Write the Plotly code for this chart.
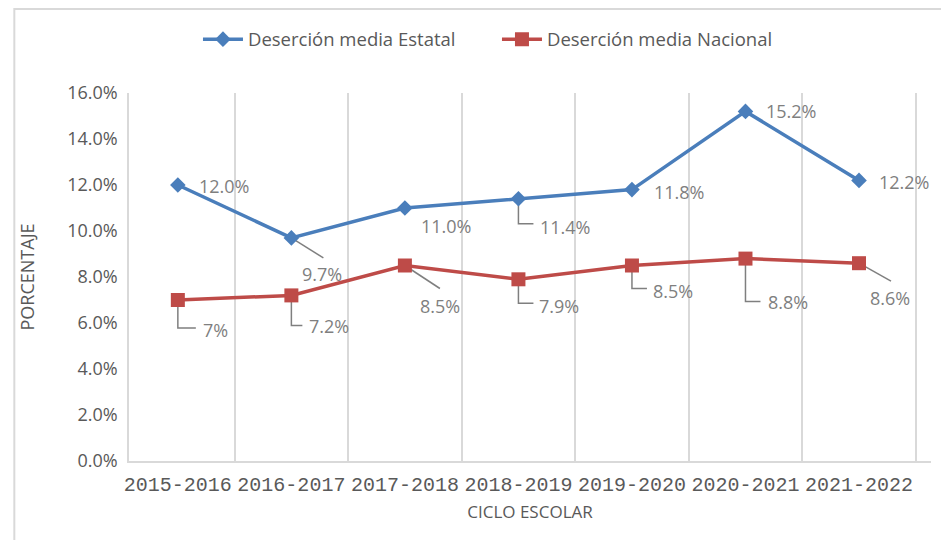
import plotly.graph_objects as go

ciclos = ["2015-2016", "2016-2017", "2017-2018", "2018-2019", "2019-2020", "2020-2021", "2021-2022"]
estatal = [12.0, 9.7, 11.0, 11.4, 11.8, 15.2, 12.2]
nacional = [7.0, 7.2, 8.5, 7.9, 8.5, 8.8, 8.6]
etiquetas_estatal = ["12.0%", "9.7%", "11.0%", "11.4%", "11.8%", "15.2%", "12.2%"]
etiquetas_nacional = ["7%", "7.2%", "8.5%", "7.9%", "8.5%", "8.8%", "8.6%"]
y_ticks = [0, 2, 4, 6, 8, 10, 12, 14, 16]

# label offsets (px, right / down) and leader paths (px, relative to point, y up)
off_est = [(46, 1), (31, 36), (41, 18), (47, 28), (47, 2), (46, 0), (45, 2)]
lead_est = [None, "M0,0 L32,-20", None, "M0,0 L0,-25 L15,-25", None, None, None]
off_nac = [(38, 30), (38, 31), (35, 40), (41, 27), (41, 25), (43, 43), (31, 35)]
lead_nac = ["M0,0 L0,-28 L18,-28", "M0,0 L0,-30 L11,-30", "M0,0 L35,-23",
            "M0,0 L0,-24 L15,-24", "M0,0 L0,-23 L15,-23", "M0,0 L0,-43 L15,-43",
            "M0,0 L32,-18"]

BLUE = "#4A7EBB"
RED = "#BE4B48"
TXT = "#595959"
LBL = "#7F7F7F"
FONT = "Open Sans"

est_f = [v / 100 for v in estatal]
nac_f = [v / 100 for v in nacional]

fig = go.Figure()
fig.add_trace(go.Scatter(x=ciclos, y=est_f, mode="lines+markers", name="Deserción media Estatal",
                         line=dict(color=BLUE, width=3.5),
                         marker=dict(symbol="diamond", size=12, color=BLUE)))
fig.add_trace(go.Scatter(x=ciclos, y=nac_f, mode="lines+markers", name="Deserción media Nacional",
                         line=dict(color=RED, width=3.5),
                         marker=dict(symbol="square", size=14, color=RED)))

annotations = []
shapes = []
for vals, labs, offs, leads in [(est_f, etiquetas_estatal, off_est, lead_est),
                                (nac_f, etiquetas_nacional, off_nac, lead_nac)]:
    for c, v, t, (dx, dy), lp in zip(ciclos, vals, labs, offs, leads):
        annotations.append(dict(x=c, y=v, text=t, showarrow=False, xshift=dx, yshift=-dy,
                                font=dict(family=FONT, size=18, color=LBL)))
        if lp:
            shapes.append(dict(type="path", xref="x", yref="y", xsizemode="pixel", ysizemode="pixel",
                               xanchor=c, yanchor=v, path=lp, layer="below",
                               line=dict(color=LBL, width=1.5)))

# chart outer border (left and top edges)
shapes.append(dict(type="rect", xref="paper", yref="paper", x0=-0.143, x1=1.2, y0=-0.5, y1=1.2285,
                   line=dict(color="#D9D9D9", width=2)))

fig.update_layout(
    width=949, height=540,
    margin=dict(l=121, r=26, t=85, b=87, autoexpand=False),
    paper_bgcolor="white", plot_bgcolor="white",
    font=dict(family=FONT, color=TXT, size=15),
    legend=dict(orientation="h", x=0.086, xanchor="left", y=1.145, yanchor="middle",
                font=dict(family=FONT, size=18.5, color=TXT), entrywidth=244, itemwidth=40),
    annotations=annotations,
    shapes=shapes,
    xaxis=dict(type="category", tickson="boundaries", showgrid=True, gridcolor="#D9D9D9", gridwidth=1.5,
               ticks="", showline=True, linecolor="#D9D9D9", linewidth=1.5, ticklabelstandoff=4,
               tickangle=0, automargin=False,
               tickfont=dict(family="Liberation Mono", size=20, color=TXT),
               title=dict(text="CICLO ESCOLAR", font=dict(family=FONT, size=17, color=TXT), standoff=10)),
    yaxis=dict(range=[0, 0.16], tickvals=[v / 100 for v in y_ticks], tickformat=".1%",
               showgrid=False, zeroline=False, showline=True, linecolor="#D9D9D9", linewidth=1.5,
               ticks="", automargin=False, ticklabelstandoff=6,
               tickfont=dict(family=FONT, size=18, color=TXT),
               title=dict(text="PORCENTAJE", font=dict(family=FONT, size=18, color=TXT), standoff=28)),
)

fig.write_html("out.html")
